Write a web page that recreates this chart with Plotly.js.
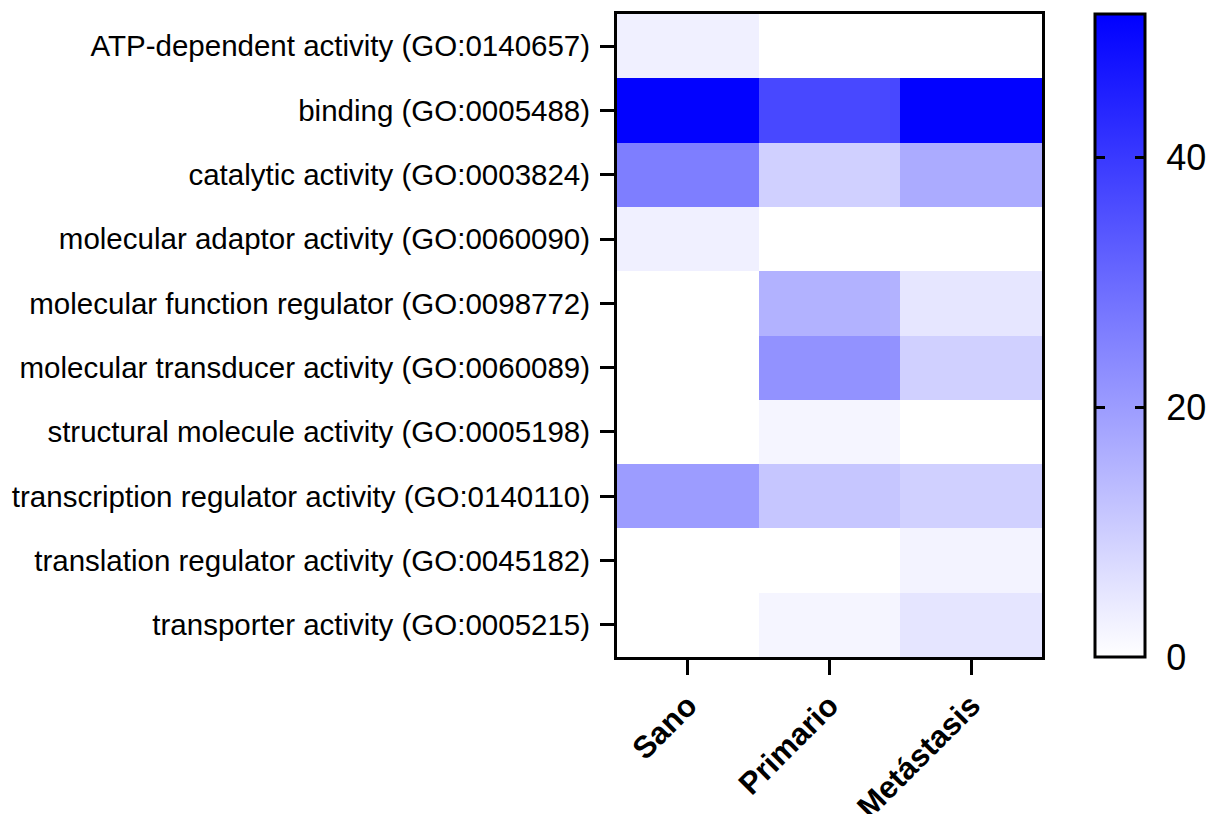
<!DOCTYPE html>
<html>
<head>
<meta charset="utf-8">
<script src="https://cdn.plot.ly/plotly-3.0.1.min.js"></script>
<style>html,body{margin:0;padding:0;background:#fff;}#chart{width:1207px;height:814px;}</style>
</head>
<body>
<div id="chart"></div>
<script>
const groups = ["Sano", "Primario", "Metástasis"];
const terms = [
  "ATP-dependent activity (GO:0140657)",
  "binding (GO:0005488)",
  "catalytic activity (GO:0003824)",
  "molecular adaptor activity (GO:0060090)",
  "molecular function regulator (GO:0098772)",
  "molecular transducer activity (GO:0060089)",
  "structural molecule activity (GO:0005198)",
  "transcription regulator activity (GO:0140110)",
  "translation regulator activity (GO:0045182)",
  "transporter activity (GO:0005215)"
];
const sano       = [3, 51, 26, 3, 0, 0, 0, 20, 0, 0];
const primario   = [0, 37, 9.5, 0, 15.5, 22, 2, 11.5, 0, 2];
const metastasis = [0, 51, 17, 0, 5, 9.5, 0, 9.5, 2.5, 5.3];
const zMax = 51.5;
const cbTicks = [0, 20, 40];

const z = terms.map((t, i) => [sano[i], primario[i], metastasis[i]]);

const plotW = 425;
const cbLeftPx = 1095 - 617;
const cbThick = 50, miniThick = 24, innerTick = 10;
const font = 'Liberation Sans, Arial, Helvetica, sans-serif';
const clear = [[0, 'rgba(0,0,0,0)'], [1, 'rgba(0,0,0,0)']];

function tickBar(leftPx) {
  return {
    type: 'heatmap', x: groups, y: terms, z: z,
    zmin: 0, zmax: zMax, colorscale: clear, hoverinfo: 'skip',
    colorbar: {
      x: leftPx / plotW, xref: 'paper', xanchor: 'left',
      y: 0.5, yanchor: 'middle', len: 1, lenmode: 'fraction',
      thickness: miniThick, xpad: 0, ypad: 0, outlinewidth: 0,
      tickvals: cbTicks.filter(v => v > 0), showticklabels: false,
      ticks: 'inside', ticklen: innerTick, tickwidth: 3, tickcolor: '#000'
    }
  };
}

const data = [{
  type: 'heatmap',
  x: groups,
  y: terms,
  z: z,
  zmin: 0,
  zmax: zMax,
  colorscale: [[0, '#ffffff'], [1, '#0000ff']],
  hoverinfo: 'skip',
  colorbar: {
    x: cbLeftPx / plotW, xref: 'paper', xanchor: 'left',
    y: 0.5, yanchor: 'middle', len: 1, lenmode: 'fraction',
    thickness: cbThick, xpad: 0, ypad: 0,
    outlinewidth: 3, outlinecolor: '#000',
    tickvals: cbTicks, ticktext: cbTicks.map(String),
    ticks: 'outside', ticklen: 13, tickwidth: 1, tickcolor: 'rgba(0,0,0,0)',
    tickfont: {family: font, size: 36, color: '#000'}
  }
},
tickBar(cbLeftPx + innerTick - miniThick),
tickBar(cbLeftPx + cbThick - miniThick)];

const layout = {
  width: 1207, height: 814,
  margin: {l: 617, r: 165, t: 14, b: 157, autoexpand: false},
  paper_bgcolor: '#fff', plot_bgcolor: '#fff',
  font: {family: font, color: '#000'},
  xaxis: {
    type: 'category', categoryorder: 'array', categoryarray: groups,
    showline: true, linewidth: 3, linecolor: '#000', mirror: true,
    ticks: 'outside', ticklen: 15, tickwidth: 3, tickcolor: '#000',
    tickangle: -45,
    tickfont: {family: font, size: 31, weight: 'bold', color: '#000'},
    showgrid: false, zeroline: false, fixedrange: true
  },
  yaxis: {
    type: 'category', autorange: 'reversed',
    showline: true, linewidth: 3, linecolor: '#000', mirror: true,
    ticks: 'outside', ticklen: 14, tickwidth: 3, tickcolor: '#000',
    ticklabelstandoff: 4,
    tickfont: {family: font, size: 29.5, color: '#000'},
    showgrid: false, zeroline: false, fixedrange: true
  }
};

Plotly.newPlot('chart', data, layout, {displayModeBar: false, staticPlot: true});
</script>
</body>
</html>
